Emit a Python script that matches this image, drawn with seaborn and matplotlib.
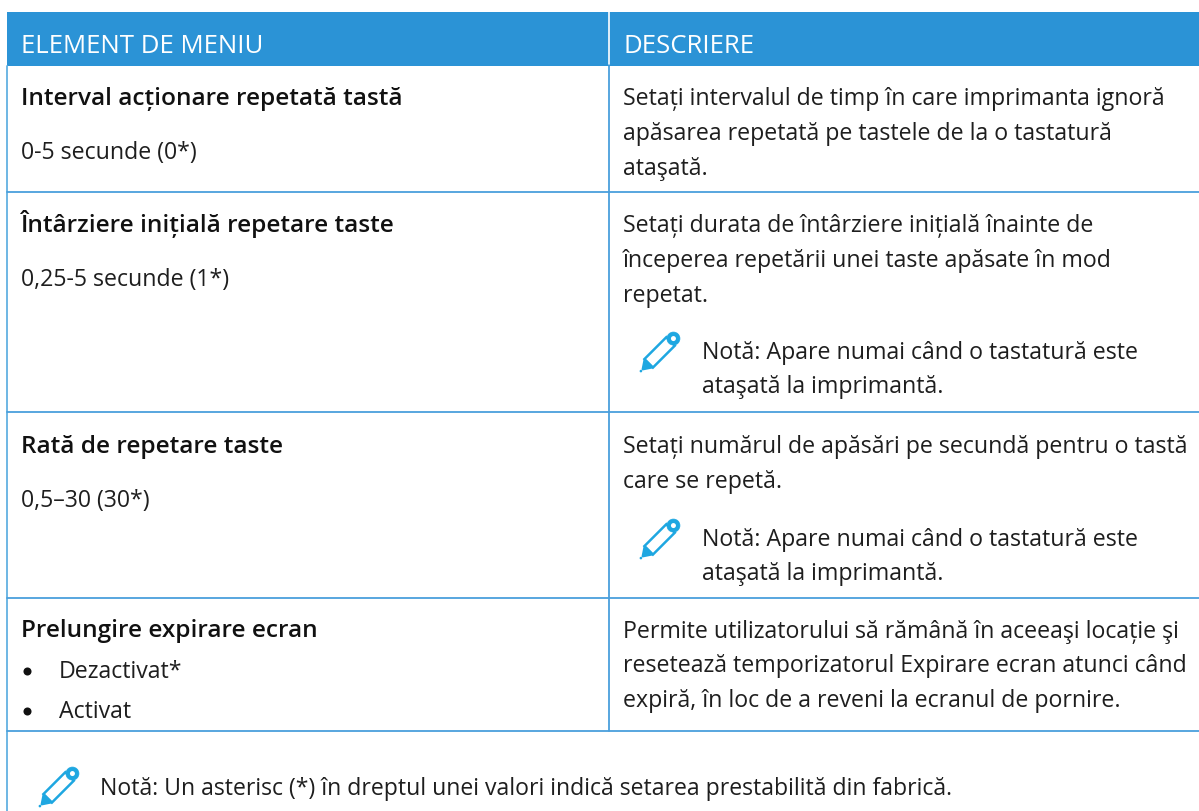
import matplotlib
matplotlib.use("Agg")
import numpy as np
import matplotlib.pyplot as plt
from matplotlib.patches import Polygon, Circle
import seaborn as sns

WIDTH = 1199
HEIGHT = 812
BLUE = "#2b93d6"
LINE = "#4a9fdc"
ICON = "#1ea7e1"
TEXT = "#1e1e1e"

HEADERS = ["ELEMENT DE MENIU", "DESCRIERE"]

MENU_ITEMS = [
    "Interval acționare repetată tastă",
    "Întârziere inițială repetare taste",
    "Rată de repetare taste",
    "Prelungire expirare ecran",
]
MENU_VALUES = ["0-5 secunde (0*)", "0,25-5 secunde (1*)", "0,5–30 (30*)"]
MENU_BULLETS = ["Dezactivat*", "Activat"]

DESCRIPTIONS = [
    "Setați intervalul de timp în care imprimanta ignoră",
    "apăsarea repetată pe tastele de la o tastatură",
    "ataşată.",
    "Setați durata de întârziere inițială înainte de",
    "începerea repetării unei taste apăsate în mod",
    "repetat.",
    "Setați numărul de apăsări pe secundă pentru o tastă",
    "care se repetă.",
    "Permite utilizatorului să rămână în aceeaşi locație şi",
    "resetează temporizatorul Expirare ecran atunci când",
    "expiră, în loc de a reveni la ecranul de pornire.",
]
NOTE_LINES = [
    "Notă: Apare numai când o tastatură este",
    "ataşată la imprimantă.",
    "Notă: Apare numai când o tastatură este",
    "ataşată la imprimantă.",
]
FOOT_NOTE = "Notă: Un asterisc (*) în dreptul unei valori indică setarea prestabilită din fabrică."

# layout, in pixels of the 1199x812 picture (text y values are baselines)
ITEM_Y = [105, 232, 453, 637]
VALUE_Y = [159, 286, 507]
BULLET_Y = [678, 718]
DESC_Y = [105, 140, 175, 232, 267, 302, 453, 488, 638, 672, 707]
NOTE_Y = [359, 393, 546, 580]
ICON_SPOTS = [(660, 353), (660, 540), (59, 788)]
ROW_LINES = [193, 413, 599, 732]
COL_LINE = 609


def draw_pencil(ax, cx, cy):
    # pencil glyph, built along its own diagonal axis
    def pts(pairs):
        u = np.array([0.707, -0.707])
        v = np.array([0.707, 0.707])
        return [(cx + a * u[0] + b * v[0], cy + a * u[1] + b * v[1]) for a, b in pairs]

    ax.add_patch(Polygon(pts([(-16, -6), (15, -6), (15, 6), (-16, 6)]), closed=True,
                         fill=False, ec=ICON, lw=1.8))
    ax.add_patch(Polygon(pts([(-25, 0), (-16, -6), (-16, 6)]), closed=True,
                         fc=ICON, ec=ICON, lw=1.2))
    cap = pts([(19, 0)])[0]
    ax.add_patch(Circle(cap, 6.5, fc=ICON, ec=ICON, lw=0.5))
    ax.add_patch(Circle(cap, 2.5, fc="white", ec="white", lw=0))
    tip = pts([(-27, 0)])[0]
    ax.add_patch(Circle(tip, 1.3, fc=ICON, ec=ICON, lw=0))


def main():
    sns.set_theme(style="white")
    plt.rcParams["font.family"] = ["Open Sans", "DejaVu Sans"]

    fig = plt.figure(figsize=(WIDTH / 100, HEIGHT / 100), dpi=100)
    ax = fig.add_axes([0, 0, 1, 1])
    ax.set_xlim(0, WIDTH)
    ax.set_ylim(HEIGHT, 0)
    ax.axis("off")

    # header band and grid lines
    ax.fill_between([6.5, WIDTH], 13, 67, color=BLUE, lw=0)
    ax.plot([COL_LINE, COL_LINE], [13, 65], color="white", lw=1.2)
    ax.plot([COL_LINE, COL_LINE], [67, ROW_LINES[-1]], color=LINE, lw=1.3)
    ax.plot([7, 7], [67, HEIGHT], color="#62b1e2", lw=1.3)
    for y in ROW_LINES:
        ax.plot([7, WIDTH], [y, y], color=LINE, lw=1.3)

    ax.text(21, 53, HEADERS[0], color="white", fontsize=18.5)
    ax.text(623, 53, HEADERS[1], color="white", fontsize=18.5)

    for txt, y in zip(MENU_ITEMS, ITEM_Y):
        ax.text(21, y, txt, color="#111111", fontsize=17.6, fontweight="semibold")
    for txt, y in zip(MENU_VALUES, VALUE_Y):
        ax.text(21, y, txt, color=TEXT, fontsize=16.7)
    for txt, y in zip(MENU_BULLETS, BULLET_Y):
        ax.text(59, y, txt, color=TEXT, fontsize=16.7)
        ax.plot([27], [y - 6], marker="o", ms=5.8, color="#111111", mew=0)

    for txt, y in zip(DESCRIPTIONS, DESC_Y):
        ax.text(623, y, txt, color=TEXT, fontsize=16.7)
    for txt, y in zip(NOTE_LINES, NOTE_Y):
        ax.text(702, y, txt, color=TEXT, fontsize=16.7)
    ax.text(100, 795, FOOT_NOTE, color=TEXT, fontsize=16.55)

    for cx, cy in ICON_SPOTS:
        draw_pencil(ax, cx, cy)

    fig.savefig("out.png", dpi=100, facecolor="white")
    plt.close(fig)


if __name__ == "__main__":
    main()
